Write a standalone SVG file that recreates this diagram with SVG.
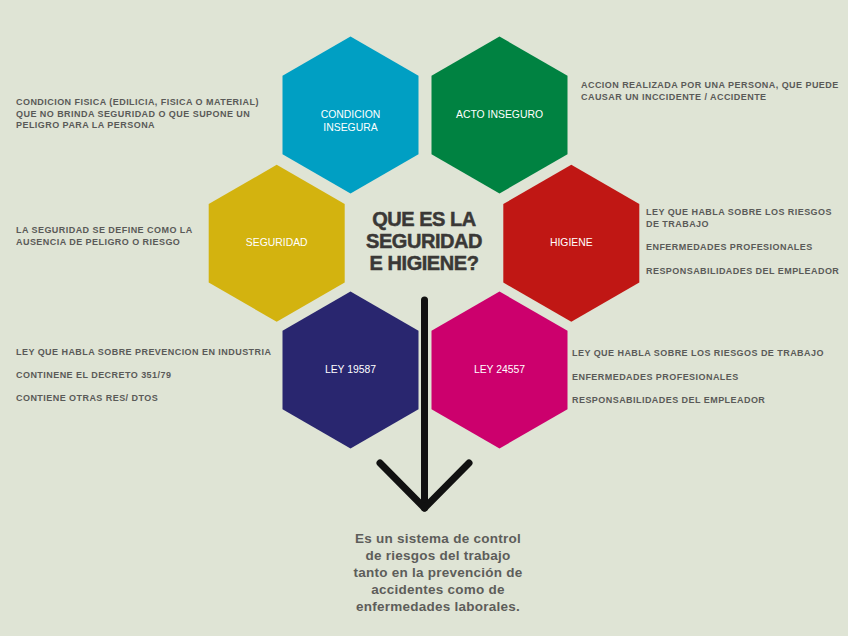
<svg xmlns="http://www.w3.org/2000/svg" width="848" height="636" viewBox="0 0 848 636">
<style>
.hex{stroke:none}
.hl{font-family:"Liberation Sans",Arial,sans-serif;font-size:10.4px;fill:#ffffff;text-anchor:middle}
.side{font-family:"Liberation Sans",Arial,sans-serif;font-size:9px;font-weight:bold;fill:#5a5a58;letter-spacing:0.45px}
.title{font-family:"Liberation Sans",Arial,sans-serif;font-size:20px;font-weight:bold;fill:#3a3836;text-anchor:middle;letter-spacing:-0.45px;stroke:#3a3836;stroke-width:0.5}
.desc{font-family:"Liberation Sans",Arial,sans-serif;font-size:13.5px;font-weight:bold;fill:#5d5d5a;text-anchor:middle;letter-spacing:0.25px}
.arr{stroke:#111111;stroke-width:7;fill:none;stroke-linecap:round;stroke-linejoin:round}
</style>
<defs>
<polygon id="hx" points="0,-78.5 68,-39.25 68,39.25 0,78.5 -68,39.25 -68,-39.25"/>
</defs>
<rect width="848" height="636" fill="#dfe4d5"/>
<g id="node-condicion">
<use href="#hx" x="350.5" y="115" fill="#009fc3"/>
<text class="hl" x="350.5" y="117.5">CONDICION</text>
<text class="hl" x="350.5" y="130.5">INSEGURA</text>
</g>
<g id="node-acto">
<use href="#hx" x="499.5" y="115" fill="#008241"/>
<text class="hl" x="499.5" y="118">ACTO INSEGURO</text>
</g>
<g id="node-seguridad">
<use href="#hx" x="276.7" y="243.3" fill="#d3b30f"/>
<text class="hl" x="276.7" y="246">SEGURIDAD</text>
</g>
<g id="node-higiene">
<use href="#hx" x="571.3" y="243.3" fill="#c01714"/>
<text class="hl" x="571.3" y="246">HIGIENE</text>
</g>
<g id="node-ley19587">
<use href="#hx" x="350.5" y="370" fill="#29266f"/>
<text class="hl" x="350.5" y="373">LEY 19587</text>
</g>
<g id="node-ley24557">
<use href="#hx" x="499.5" y="370" fill="#cc006d"/>
<text class="hl" x="499.5" y="373">LEY 24557</text>
</g>
<g id="node-center">
<text class="title" x="424" y="226">QUE ES LA</text>
<text class="title" x="424" y="248">SEGURIDAD</text>
<text class="title" x="424" y="269.5">E HIGIENE?</text>
</g>
<g id="connectors">
<line class="arr" x1="424.5" y1="300" x2="424.5" y2="508"/>
<polyline class="arr" points="380,463 424.5,508 469,463"/>
</g>
<g id="node-desc">
<text class="desc" x="438" y="543">Es un sistema de control</text>
<text class="desc" x="438" y="560">de riesgos del trabajo</text>
<text class="desc" x="438" y="577">tanto en la prevención de</text>
<text class="desc" x="438" y="594">accidentes como de</text>
<text class="desc" x="438" y="611">enfermedades laborales.</text>
</g>
<g id="note-condicion">
<text class="side" x="16" y="105">CONDICION FISICA (EDILICIA, FISICA O MATERIAL)</text>
<text class="side" x="16" y="116.5">QUE NO BRINDA SEGURIDAD O QUE SUPONE UN</text>
<text class="side" x="16" y="128">PELIGRO PARA LA PERSONA</text>
</g>
<g id="note-acto">
<text class="side" x="581" y="88">ACCION REALIZADA POR UNA PERSONA, QUE PUEDE</text>
<text class="side" x="581" y="99.5">CAUSAR UN INCCIDENTE / ACCIDENTE</text>
</g>
<g id="note-seguridad">
<text class="side" x="16" y="233">LA SEGURIDAD SE DEFINE COMO LA</text>
<text class="side" x="16" y="245">AUSENCIA DE PELIGRO O RIESGO</text>
</g>
<g id="note-higiene">
<text class="side" x="646" y="215">LEY QUE HABLA SOBRE LOS RIESGOS</text>
<text class="side" x="646" y="226.5">DE TRABAJO</text>
<text class="side" x="646" y="250">ENFERMEDADES PROFESIONALES</text>
<text class="side" x="646" y="274">RESPONSABILIDADES DEL EMPLEADOR</text>
</g>
<g id="note-ley19587">
<text class="side" x="16" y="355">LEY QUE HABLA SOBRE PREVENCION EN  INDUSTRIA</text>
<text class="side" x="16" y="378">CONTINENE EL DECRETO 351/79</text>
<text class="side" x="16" y="401">CONTIENE OTRAS RES/ DTOS</text>
</g>
<g id="note-ley24557">
<text class="side" x="572" y="356">LEY QUE HABLA SOBRE LOS RIESGOS DE TRABAJO</text>
<text class="side" x="572" y="380">ENFERMEDADES PROFESIONALES</text>
<text class="side" x="572" y="403">RESPONSABILIDADES DEL EMPLEADOR</text>
</g>
</svg>
